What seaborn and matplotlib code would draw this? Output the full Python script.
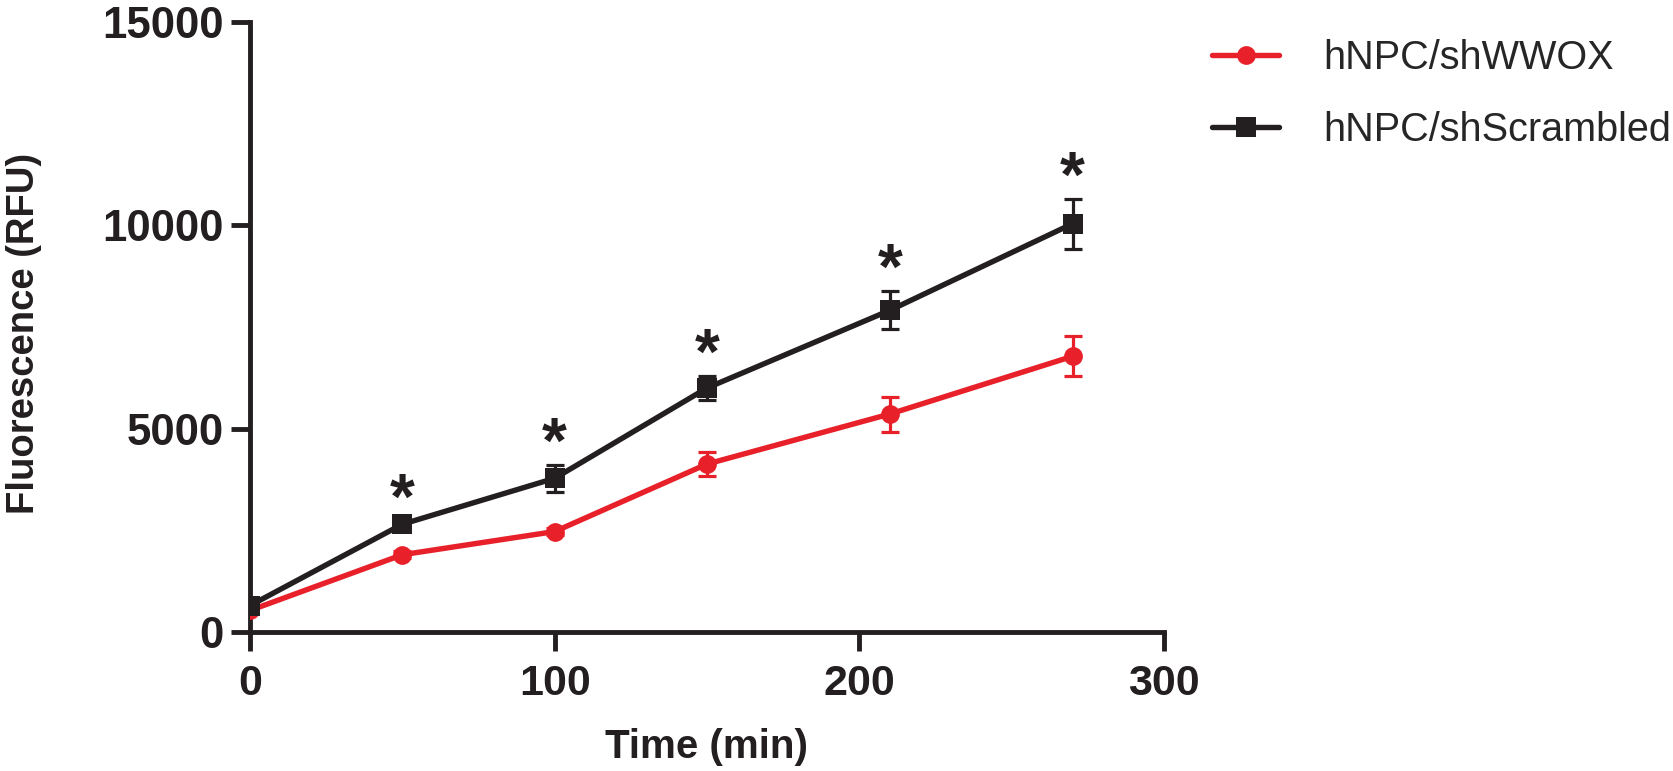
import matplotlib
matplotlib.use("Agg")
import matplotlib.pyplot as plt
from matplotlib import font_manager
import seaborn as sns
import pandas as pd

# ---- data ----
time_min = [0, 50, 100, 150, 210, 270]
wwox_mean = [530, 1900, 2470, 4130, 5360, 6780]
wwox_err = [60, 80, 90, 290, 430, 490]
scr_mean = [650, 2650, 3780, 6000, 7910, 10040]
scr_err = [60, 90, 330, 290, 470, 610]
groups = ["hNPC/shWWOX", "hNPC/shScrambled"]
sig_times = [50, 100, 150, 210, 270]
x_ticks = [0, 100, 200, 300]
y_ticks = [0, 5000, 10000, 15000]

RED = "#E8202A"
BLK = "#231F20"

df = pd.DataFrame({
    "time": time_min * 2,
    "rfu": wwox_mean + scr_mean,
    "group": [groups[0]] * len(time_min) + [groups[1]] * len(time_min),
})

sns.set_theme(style="white")
plt.rcParams["font.family"] = ["Liberation Sans", "DejaVu Sans"]

installed = {f.name for f in font_manager.fontManager.ttflist}
if "Liberation Sans Narrow" in installed:
    xtick_family, xtick_size = ["Liberation Sans Narrow", "DejaVu Sans"], 34
else:
    xtick_family, xtick_size = ["Liberation Sans", "DejaVu Sans"], 31

fig = plt.figure(figsize=(16.74, 7.71), dpi=100)
ax = fig.add_axes([250 / 1674, 1 - 632 / 771, 914 / 1674, 610 / 771])

sns.lineplot(data=df, x="time", y="rfu", hue="group", style="group",
             hue_order=groups, style_order=groups,
             palette={groups[0]: RED, groups[1]: BLK},
             markers={groups[0]: "o", groups[1]: "s"}, dashes=False,
             linewidth=3.9, markersize=13.5, markeredgewidth=0,
             errorbar=None, legend=False, ax=ax)

lines = list(ax.lines[:2])
lines[0].set_zorder(3)
lines[1].set_zorder(4)
lines[1].set_markersize(14)

ax.errorbar(time_min, wwox_mean, yerr=wwox_err, fmt="none", ecolor=RED,
            elinewidth=2.3, capsize=6.5, capthick=2.3, zorder=2.5)
ax.errorbar(time_min, scr_mean, yerr=scr_err, fmt="none", ecolor=BLK,
            elinewidth=2.3, capsize=6.5, capthick=2.3, zorder=3.5)

# significance asterisks above the shScrambled error bars
for t in sig_times:
    i = time_min.index(t)
    ax.text(t, scr_mean[i] + scr_err[i] + 50, "*", ha="center", va="baseline",
            fontsize=46, fontweight="bold", color=BLK,
            family=["Liberation Sans", "DejaVu Sans"])

ax.set_xlim(0, 300)
ax.set_ylim(0, 15000)
ax.set_xticks(x_ticks)
ax.set_yticks(y_ticks)
ax.set_xticklabels([str(v) for v in x_ticks])
ax.set_yticklabels([str(v) for v in y_ticks])

for s in ["top", "right"]:
    ax.spines[s].set_visible(False)
for s in ["left", "bottom"]:
    ax.spines[s].set_linewidth(3.5)
    ax.spines[s].set_color(BLK)

ax.tick_params(axis="both", which="major", direction="out", length=14,
               width=3.5, color=BLK, bottom=True, left=True)
ax.tick_params(axis="y", pad=5)
ax.tick_params(axis="x", pad=9)
for lab in ax.get_yticklabels():
    lab.set_fontsize(31.5)
    lab.set_fontweight("bold")
    lab.set_color(BLK)
    lab.set_family(["Liberation Sans", "DejaVu Sans"])
for lab in ax.get_xticklabels():
    lab.set_fontsize(xtick_size)
    lab.set_fontweight("bold")
    lab.set_color(BLK)
    lab.set_family(xtick_family)

ax.set_xlabel("Time (min)", fontsize=29, fontweight="bold", color=BLK)
ax.set_ylabel("Fluorescence (RFU)", fontsize=27.5, fontweight="bold", color=BLK)
ax.xaxis.label.set_va("baseline")
ax.xaxis.set_label_coords(0.5, (631 - 757) / 610)
ax.yaxis.label.set_va("baseline")
ax.yaxis.set_label_coords((34 - 250) / 914, 0.49)

ax.legend(lines, groups, loc="upper left",
          bbox_to_anchor=(1212 / 1674, 1 - 39 / 771),
          bbox_transform=fig.transFigure, frameon=False,
          prop={"family": ["Liberation Sans", "DejaVu Sans"], "size": 28.5},
          handlelength=1.7, handletextpad=1.1, labelspacing=0.85,
          borderpad=0, borderaxespad=0)

fig.savefig("out.png", dpi=100)
